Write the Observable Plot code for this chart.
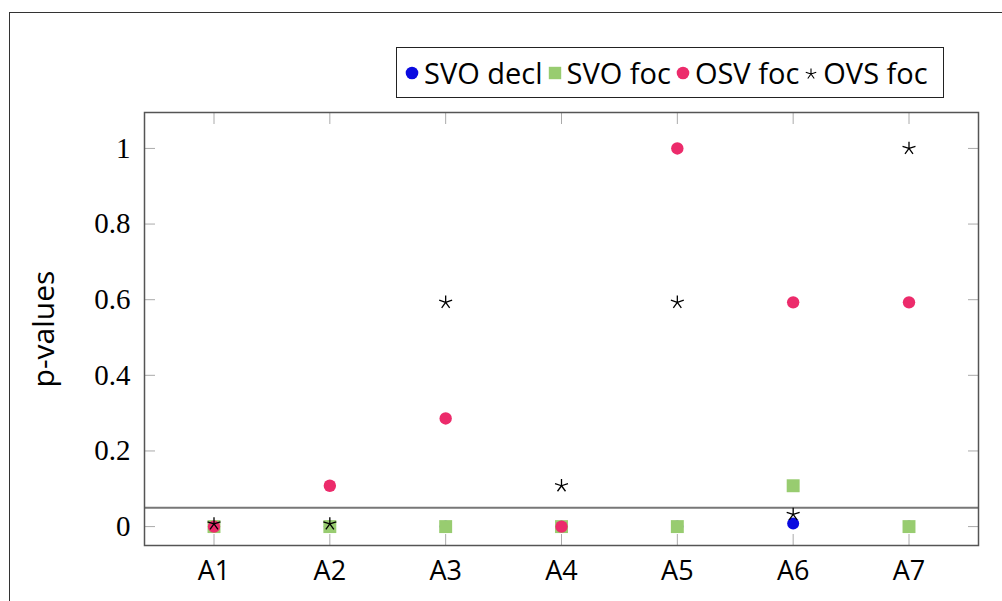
<!DOCTYPE html>
<html>
<head>
<meta charset="utf-8">
<script src="https://cdn.jsdelivr.net/npm/d3@7"></script>
<script src="https://cdn.jsdelivr.net/npm/@observablehq/plot@0.6"></script>
<style>
  html, body { margin: 0; padding: 0; background: #fff; }
  #wrap { position: relative; width: 1002px; height: 601px; overflow: hidden; }
  #outer { position: absolute; left: 9px; top: 12px; width: 1200px; height: 800px;
           border-left: 1.5px solid #333; border-top: 1.5px solid #333; }
  #chart { position: absolute; left: 0; top: 0; }
  #legend { position: absolute; left: 396px; top: 47px; width: 548px; height: 51px;
            border: 1.3px solid #222; background: #fff;
            font-family: "Open Sans", sans-serif; font-size: 29px; color: #000;
            display: flex; align-items: center; padding-left: 8px; box-sizing: border-box;
            white-space: nowrap; }
  #legend .item { display: flex; align-items: center; margin-right: 5px; }
  #legend svg { margin-right: 5px; }
</style>
</head>
<body>
<div id="wrap">
  <div id="outer"></div>
  <div id="chart"></div>
  <div id="legend"></div>
</div>
<script>
const categories = ["A1", "A2", "A3", "A4", "A5", "A6", "A7"];
const svoDecl = [0, 0, 0, 0, 0, 0.008, 0];
const svoFoc  = [0, 0, 0, 0, 0, 0.108, 0];
const osvFoc  = [0, 0.108, 0.286, 0, 1, 0.593, 0.593];
const ovsFoc  = [0.007, 0.007, 0.593, 0.108, 0.593, 0.032, 1];
const yTicks = [0, 0.2, 0.4, 0.6, 0.8, 1];
const threshold = [0.05];

const seriesNames = ["SVO decl", "SVO foc", "OSV foc", "OVS foc"];
const seriesColors = ["#0a0ae0", "#98cc70", "#ec2b6b", "#000000"];

const rows = (vals) => categories.map((c, i) => ({cat: c, p: vals[i]}));

// five-armed asterisk like pgfplots "star"
const star5 = {
  draw(ctx, size) {
    const r = Math.sqrt(size / Math.PI);
    for (let i = 0; i < 5; i++) {
      const a = -Math.PI / 2 + i * 2 * Math.PI / 5;
      ctx.moveTo(0, 0);
      ctx.lineTo(r * Math.cos(a), r * Math.sin(a));
    }
  }
};

const tickStroke = "#aaa";
const chart = Plot.plot({
  width: 1002,
  height: 601,
  marginLeft: 144,
  marginRight: 24,
  marginTop: 112,
  marginBottom: 56,
  style: {background: "transparent", overflow: "visible"},
  x: {type: "point", domain: categories, padding: 0.6, round: false},
  y: {domain: [-0.05, 1.095]},
  marks: [
    Plot.axisY({anchor: "left", ticks: yTicks, tickSize: -11, tickPadding: 25, stroke: tickStroke,
      fill: "#000", fontSize: 29, fontFamily: "Liberation Serif, serif", label: null, tickFormat: d => String(d)}),
    Plot.axisY({anchor: "right", ticks: yTicks, tickSize: -11, stroke: tickStroke, tickFormat: () => "", label: null}),
    Plot.axisX({anchor: "bottom", tickSize: -11, tickPadding: 26, stroke: tickStroke,
      fill: "#000", fontSize: 27, fontFamily: "Open Sans, sans-serif", label: null}),
    Plot.axisX({anchor: "top", tickSize: -11, stroke: tickStroke, tickFormat: () => "", label: null}),
    Plot.text(["p-values"], {frameAnchor: "left", dx: -100, rotate: -90, text: d => d, textAnchor: "middle",
      fontSize: 30, fontFamily: "Open Sans, sans-serif", fill: "#000"}),
    Plot.ruleY(threshold, {stroke: "#777", strokeWidth: 2}),
    Plot.frame({stroke: "#555", strokeWidth: 1.5}),
    Plot.dot(rows(svoDecl), {x: "cat", y: "p", r: 6, fill: seriesColors[0], symbol: "circle"}),
    Plot.dot(rows(svoFoc), {x: "cat", y: "p", r: 7.3, fill: seriesColors[1], symbol: "square"}),
    Plot.dot(rows(osvFoc), {x: "cat", y: "p", r: 6.2, fill: seriesColors[2], symbol: "circle"}),
    Plot.dot(rows(ovsFoc), {x: "cat", y: "p", r: 6.8, fill: "none", stroke: seriesColors[3], strokeWidth: 1.3, symbol: star5})
  ]
});
document.getElementById("chart").appendChild(chart);

// legend
const legend = document.getElementById("legend");
const markers = [
  `<circle cx="7" cy="7" r="6.3" fill="${seriesColors[0]}"/>`,
  `<rect x="0.8" y="0.8" width="12.4" height="12.4" fill="${seriesColors[1]}"/>`,
  `<circle cx="7" cy="7" r="6.3" fill="${seriesColors[2]}"/>`,
  (() => { let d = ""; for (let i = 0; i < 5; i++) { const a = -Math.PI/2 + i*2*Math.PI/5;
      d += `M7,8L${(7 + 5.5*Math.cos(a)).toFixed(2)},${(8 + 5.5*Math.sin(a)).toFixed(2)}`; }
    return `<path d="${d}" stroke="#000" stroke-width="1.1" fill="none"/>`; })()
];
seriesNames.forEach((name, i) => {
  const item = document.createElement("div");
  item.className = "item";
  item.innerHTML = `<svg width="14" height="14" viewBox="0 0 14 14">${markers[i]}</svg><span>${name}</span>`;
  legend.appendChild(item);
});
</script>
</body>
</html>
